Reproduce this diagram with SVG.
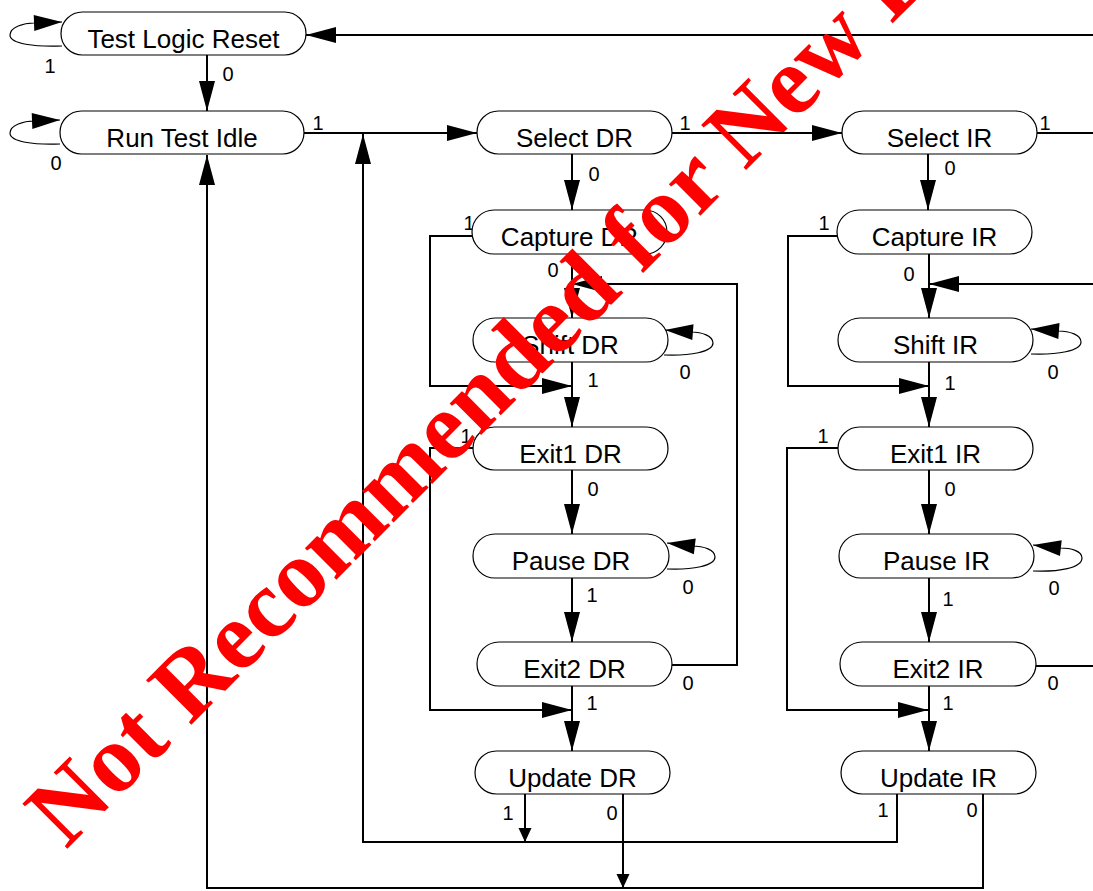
<svg xmlns="http://www.w3.org/2000/svg" width="1093" height="891" viewBox="0 0 1093 891">
<style>
.node rect{fill:#fff;stroke:#000;stroke-width:1.2}
.node text{font-family:"Liberation Sans",Arial,sans-serif;font-size:26px;text-anchor:middle;fill:#000}
.c{fill:none;stroke:#000;stroke-width:2}
.loop{fill:none;stroke:#000;stroke-width:1.2}
.lbl{font-family:"Liberation Sans",Arial,sans-serif;font-size:20px;text-anchor:middle;fill:#000}
.wm{font-family:"Liberation Serif","Times New Roman",serif;font-weight:bold;font-size:97px;fill:#FF0000}
</style>
<defs>
<marker id="ah" markerUnits="userSpaceOnUse" markerWidth="32" markerHeight="18" refX="30" refY="8" orient="auto" overflow="visible"><path d="M0,0 L30,8 L0,16 Z" fill="#000"/></marker>
<marker id="ahs" markerUnits="userSpaceOnUse" markerWidth="16" markerHeight="14" refX="14" refY="6.5" orient="auto" overflow="visible"><path d="M0,0 L14,6.5 L0,13 Z" fill="#000"/></marker>
<marker id="al" markerUnits="userSpaceOnUse" markerWidth="30" markerHeight="18" refX="28" refY="8" orient="auto" overflow="visible"><path d="M0,0 L28,8 L0,16 Z" fill="#000"/></marker>
</defs>
<rect width="1093" height="891" fill="#fff"/>
<g id="connectors">
<path class="c" d="M207,55 V111" marker-end="url(#ah)"/>
<path class="c" d="M1093,35 H306" marker-end="url(#ah)"/>
<path class="c" d="M304,133 H477" marker-end="url(#ah)"/>
<path class="c" d="M672,133 H842" marker-end="url(#ah)"/>
<path class="c" d="M1037,133 H1093"/>
<path class="c" d="M572,154 V210" marker-end="url(#ah)"/>
<path class="c" d="M928,154 V210" marker-end="url(#ah)"/>
<path class="c" d="M472,236 H430 V386 H572" marker-end="url(#ah)"/>
<path class="c" d="M837,236 H788 V386 H929" marker-end="url(#ah)"/>
<path class="c" d="M572,254 V318" marker-end="url(#ah)"/>
<path class="c" d="M929,254 V318" marker-end="url(#ah)"/>
<path class="c" d="M672,665 H737 V284 H572" marker-end="url(#ah)"/>
<path class="c" d="M1093,284 H929" marker-end="url(#ah)"/>
<path class="c" d="M1036,666 H1093"/>
<path class="c" d="M572,362 V427" marker-end="url(#ah)"/>
<path class="c" d="M929,362 V427" marker-end="url(#ah)"/>
<path class="c" d="M473,448 H430 V710 H572" marker-end="url(#ah)"/>
<path class="c" d="M838,448 H787 V710 H928" marker-end="url(#ah)"/>
<path class="c" d="M572,470 V534" marker-end="url(#ah)"/>
<path class="c" d="M929,470 V534" marker-end="url(#ah)"/>
<path class="c" d="M572,578 V642" marker-end="url(#ah)"/>
<path class="c" d="M929,578 V642" marker-end="url(#ah)"/>
<path class="c" d="M572,686 V751" marker-end="url(#ah)"/>
<path class="c" d="M929,686 V751" marker-end="url(#ah)"/>
<path class="c" d="M525,794 V842" marker-end="url(#ahs)"/>
<path class="c" d="M623,794 V888" marker-end="url(#ahs)"/>
<path class="c" d="M897,794 V842 H363 V134" marker-end="url(#ah)"/>
<path class="c" d="M983,794 V888 H207 V155" marker-end="url(#ah)"/>
<path class="loop" d="M62,46 C35,47 10,44 10,35 C10,27 24,23 34,23 L62,22" marker-end="url(#al)"/>
<path class="loop" d="M60,144 C34,145 10,142 10,133 C10,125 24,121 34,121 L60,120" marker-end="url(#al)"/>
<path class="loop" d="M664,355 C690,356 713,352 713,343 C713,336 702,332 691,332 L665,330" marker-end="url(#al)"/>
<path class="loop" d="M667,569 C692,570 715,566 715,557 C715,550 704,546 692,546 L667,543" marker-end="url(#al)"/>
<path class="loop" d="M1031,354 C1057,355 1081,351 1081,342 C1081,335 1070,331 1058,331 L1031,329" marker-end="url(#al)"/>
<path class="loop" d="M1033,571 C1059,572 1082,568 1082,558 C1082,551 1071,548 1060,548 L1033,545" marker-end="url(#al)"/>
</g>
<g id="labels">
<text class="lbl" x="50" y="73">1</text>
<text class="lbl" x="228" y="81">0</text>
<text class="lbl" x="56" y="170">0</text>
<text class="lbl" x="318" y="130">1</text>
<text class="lbl" x="685" y="130">1</text>
<text class="lbl" x="1045" y="130">1</text>
<text class="lbl" x="594" y="181">0</text>
<text class="lbl" x="950" y="175">0</text>
<text class="lbl" x="469" y="230">1</text>
<text class="lbl" x="824" y="230">1</text>
<text class="lbl" x="553" y="277">0</text>
<text class="lbl" x="909" y="281">0</text>
<text class="lbl" x="685" y="379">0</text>
<text class="lbl" x="1053" y="379">0</text>
<text class="lbl" x="593" y="387">1</text>
<text class="lbl" x="950" y="390">1</text>
<text class="lbl" x="466" y="443">1</text>
<text class="lbl" x="823" y="443">1</text>
<text class="lbl" x="593" y="496">0</text>
<text class="lbl" x="950" y="496">0</text>
<text class="lbl" x="688" y="594">0</text>
<text class="lbl" x="1054" y="595">0</text>
<text class="lbl" x="592" y="602">1</text>
<text class="lbl" x="948" y="606">1</text>
<text class="lbl" x="688" y="690">0</text>
<text class="lbl" x="1053" y="690">0</text>
<text class="lbl" x="592" y="710">1</text>
<text class="lbl" x="948" y="710">1</text>
<text class="lbl" x="508" y="820">1</text>
<text class="lbl" x="612" y="820">0</text>
<text class="lbl" x="883" y="817">1</text>
<text class="lbl" x="972" y="817">0</text>
</g>
<g id="n-tlr" class="node"><rect x="61" y="12" width="245" height="43" rx="21.5"/><text x="183.5" y="47.5">Test Logic Reset</text></g>
<g id="n-rti" class="node"><rect x="60" y="111" width="244" height="43" rx="21.5"/><text x="182" y="146.5">Run Test Idle</text></g>
<g id="n-sdr" class="node"><rect x="477" y="111" width="195" height="43" rx="21.5"/><text x="574.5" y="146.5">Select DR</text></g>
<g id="n-sir" class="node"><rect x="842" y="111" width="195" height="43" rx="21.5"/><text x="939.5" y="146.5">Select IR</text></g>
<g id="n-cdr" class="node"><rect x="472" y="210" width="195" height="44" rx="22"/><text x="569.5" y="246">Capture DR</text></g>
<g id="n-cir" class="node"><rect x="837" y="210" width="195" height="44" rx="22"/><text x="934.5" y="246">Capture IR</text></g>
<g id="n-shdr" class="node"><rect x="473" y="318" width="195" height="44" rx="22"/><text x="570.5" y="354">Shift DR</text></g>
<g id="n-shir" class="node"><rect x="838" y="318" width="195" height="44" rx="22"/><text x="935.5" y="354">Shift IR</text></g>
<g id="n-e1dr" class="node"><rect x="473" y="427" width="195" height="43" rx="21.5"/><text x="570.5" y="462.5">Exit1 DR</text></g>
<g id="n-e1ir" class="node"><rect x="838" y="427" width="195" height="43" rx="21.5"/><text x="935.5" y="462.5">Exit1 IR</text></g>
<g id="n-pdr" class="node"><rect x="473" y="534" width="196" height="44" rx="22"/><text x="571" y="570">Pause DR</text></g>
<g id="n-pir" class="node"><rect x="839" y="534" width="195" height="44" rx="22"/><text x="936.5" y="570">Pause IR</text></g>
<g id="n-e2dr" class="node"><rect x="477" y="642" width="195" height="44" rx="22"/><text x="574.5" y="678">Exit2 DR</text></g>
<g id="n-e2ir" class="node"><rect x="840" y="642" width="196" height="44" rx="22"/><text x="938" y="678">Exit2 IR</text></g>
<g id="n-udr" class="node"><rect x="475" y="751" width="195" height="43" rx="21.5"/><text x="572.5" y="786.5">Update DR</text></g>
<g id="n-uir" class="node"><rect x="841" y="751" width="195" height="43" rx="21.5"/><text x="938.5" y="786.5">Update IR</text></g>
<text class="wm" transform="translate(66,850) rotate(-45)">Not Recommended for New Designs</text>
</svg>
